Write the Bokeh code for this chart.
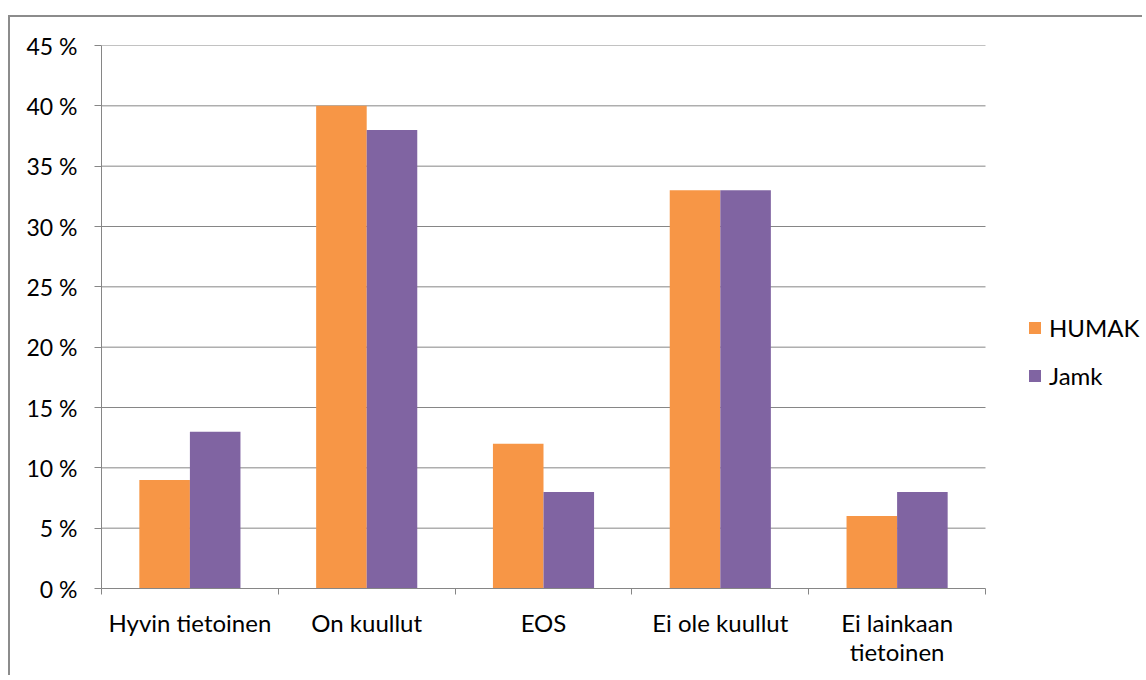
from bokeh.plotting import figure
from bokeh.models import (Range1d, LinearAxis, FixedTicker, Legend, LegendItem,
                          PrintfTickFormatter, ColumnDataSource)
from bokeh.transform import dodge
from bokeh.embed import file_html
from bokeh.resources import INLINE

# ---- data ----
categories = ["Hyvin tietoinen", "On kuullut", "EOS", "Ei ole kuullut", "Ei lainkaan\ntietoinen"]
humak = [9, 40, 12, 33, 6]
jamk = [13, 38, 8, 33, 8]
y_ticks = [0, 5, 10, 15, 20, 25, 30, 35, 40, 45]
series_names = ["HUMAK", "Jamk"]

FONT = "Lato"
FS = "24px"
TICK_FS = "23px"
GRAY = "#868686"
ORANGE = "#F79646"
PURPLE = "#8064A2"

# layout (pixels)
W, H = 1134, 660
BORDER_LEFT, BORDER_TOP = 91, 28
BORDER_BOTTOM = 89
PLOT_W = 884            # width of the plot area holding the categories

n = len(categories)
centers = [i + 0.5 for i in range(n)]
edges = list(range(n + 1))
x_end = n * (W - BORDER_LEFT) / PLOT_W   # frame extends right to hold the legend
src = ColumnDataSource(dict(x=centers, cat=categories, humak=humak, jamk=jamk))
grid_src = ColumnDataSource(dict(y=y_ticks[1:], x0=[0] * (len(y_ticks) - 1),
                                 x1=[n] * (len(y_ticks) - 1)))

p = figure(x_range=Range1d(0, x_end), y_range=Range1d(0, max(y_ticks)),
           width=W, height=H, output_backend="svg", toolbar_location=None,
           x_axis_location=None, min_border_left=BORDER_LEFT, min_border_top=BORDER_TOP,
           min_border_bottom=BORDER_BOTTOM, min_border_right=0, outline_line_color=None,
           styles={"border-left": "2px solid #8c8c8c", "border-top": "2px solid #8c8c8c",
                   "margin-left": "8px", "margin-top": "15px"})

# horizontal grid lines limited to the plot area
p.xgrid.visible = False
p.ygrid.visible = False
p.segment(x0="x0", x1="x1", y0="y", y1="y", source=grid_src,
          line_color=GRAY, line_width=1)

bw = 0.286
r1 = p.vbar(x=dodge("x", -bw / 2), top="humak", width=bw, source=src,
            fill_color=ORANGE, line_color=None)
r2 = p.vbar(x=dodge("x", bw / 2), top="jamk", width=bw, source=src,
            fill_color=PURPLE, line_color=None)

# y axis
ya = p.yaxis[0]
ya.ticker = FixedTicker(ticks=y_ticks)
ya.formatter = PrintfTickFormatter(format="%d %%")
ya.axis_line_color = GRAY
ya.major_tick_line_color = GRAY
ya.major_tick_in = 0
ya.major_tick_out = 7
ya.minor_tick_line_color = None
ya.major_label_standoff = 17
ya.major_label_text_font = FONT
ya.major_label_text_font_size = TICK_FS
ya.major_label_text_color = "#000000"

# x axis: labels at category centres, tick marks at category boundaries
xa = LinearAxis(ticker=FixedTicker(ticks=centers, minor_ticks=edges), bounds=(0, n),
                major_label_overrides={c: lab for c, lab in zip(centers, categories)},
                axis_line_color=GRAY, major_tick_line_color=None,
                major_tick_out=0, major_tick_in=0,
                minor_tick_line_color=GRAY, minor_tick_out=6, minor_tick_in=0,
                major_label_standoff=13, major_label_text_font=FONT,
                major_label_text_line_height=1.0,
                major_label_text_font_size=FS, major_label_text_color="#000000")
p.add_layout(xa, "below")

legend = Legend(items=[LegendItem(label=series_names[0], renderers=[r1]),
                       LegendItem(label=series_names[1], renderers=[r2])],
                location=(926, 198), orientation="vertical", border_line_color=None,
                background_fill_alpha=0, glyph_width=15, glyph_height=15,
                label_standoff=7, spacing=19, padding=0, margin=0,
                label_text_font=FONT, label_text_font_size=FS, label_text_color="#000000")
p.add_layout(legend, "center")

open("out.html", "w").write(file_html(p, INLINE))
